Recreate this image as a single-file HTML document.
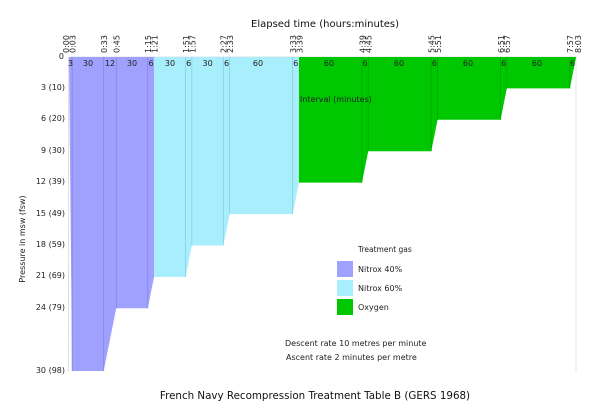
<!DOCTYPE html>
<html><head><meta charset="utf-8"><style>
html,body{margin:0;padding:0;background:#fff;}
svg{display:block;font-family:"DejaVu Sans","Liberation Sans",sans-serif;}
</style></head><body>
<svg width="600" height="419" viewBox="0 0 600 419" xmlns="http://www.w3.org/2000/svg">
<rect width="600" height="419" fill="#fff"/>
<line x1="576" y1="57" x2="576" y2="372" stroke="#e6e6e6" stroke-width="1"/>
<line x1="68.5" y1="57" x2="68.5" y2="372" stroke="#e0e0e0" stroke-width="1"/>
<line x1="69" y1="57" x2="576" y2="57" stroke="#e0e0e0" stroke-width="1"/>
<polygon fill="#a0a0ff" points="69,57 72.15,371 103.65,371 116.25,308.3 147.75,308.3 154.05,276.9 154.05,57"/>
<polygon fill="#a8eefc" points="154.05,57 154.05,276.9 185.55,276.9 191.85,245.5 223.35,245.5 229.65,214.1 292.65,214.1 298.95,182.6 298.95,57"/>
<polygon fill="#00c800" points="298.95,57 298.95,182.6 361.95,182.6 368.25,151.2 431.25,151.2 437.55,119.8 500.55,119.8 506.85,88.4 569.85,88.4 576.15,57"/>
<g stroke-width="0.8">
<line x1="72.15" y1="57" x2="72.15" y2="371" stroke="#8484e0"/>
<line x1="103.65" y1="57" x2="103.65" y2="371" stroke="#8484e0"/>
<line x1="116.25" y1="57" x2="116.25" y2="308.3" stroke="#8484e0"/>
<line x1="147.75" y1="57" x2="147.75" y2="308.3" stroke="#8484e0"/>
<line x1="185.55" y1="57" x2="185.55" y2="276.9" stroke="#86cfe0"/>
<line x1="191.85" y1="57" x2="191.85" y2="245.5" stroke="#86cfe0"/>
<line x1="223.35" y1="57" x2="223.35" y2="245.5" stroke="#86cfe0"/>
<line x1="229.65" y1="57" x2="229.65" y2="214.1" stroke="#86cfe0"/>
<line x1="292.65" y1="57" x2="292.65" y2="214.1" stroke="#86cfe0"/>
<line x1="361.95" y1="57" x2="361.95" y2="182.6" stroke="#00a800"/>
<line x1="368.25" y1="57" x2="368.25" y2="151.2" stroke="#00a800"/>
<line x1="431.25" y1="57" x2="431.25" y2="151.2" stroke="#00a800"/>
<line x1="437.55" y1="57" x2="437.55" y2="119.8" stroke="#00a800"/>
<line x1="500.55" y1="57" x2="500.55" y2="119.8" stroke="#00a800"/>
<line x1="506.85" y1="57" x2="506.85" y2="88.4" stroke="#00a800"/>
<line x1="569.85" y1="57" x2="569.85" y2="88.4" stroke="#00a800"/>
</g>
<g font-size="8" fill="#222" text-anchor="middle">
<text x="70.6" y="66">3</text><text x="88" y="66">30</text><text x="110" y="66">12</text><text x="132" y="66">30</text><text x="151" y="66">6</text>
<text x="170" y="66">30</text><text x="188.7" y="66">6</text><text x="207.6" y="66">30</text><text x="226.5" y="66">6</text><text x="258" y="66">60</text><text x="295.8" y="66">6</text>
<text x="329" y="66">60</text><text x="365" y="66">6</text><text x="399" y="66">60</text><text x="434.4" y="66">6</text><text x="468" y="66">60</text><text x="503.7" y="66">6</text><text x="537" y="66">60</text><text x="572.5" y="66">6</text>
</g>
<g font-size="8" fill="#222">
<text transform="translate(69,53) rotate(-90)">0:00</text>
<text transform="translate(75.5,53) rotate(-90)">0:03</text>
<text transform="translate(107,53) rotate(-90)">0:33</text>
<text transform="translate(119.5,53) rotate(-90)">0:45</text>
<text transform="translate(151,53) rotate(-90)">1:15</text>
<text transform="translate(157.5,53) rotate(-90)">1:21</text>
<text transform="translate(189,53) rotate(-90)">1:51</text>
<text transform="translate(195.3,53) rotate(-90)">1:57</text>
<text transform="translate(226.7,53) rotate(-90)">2:27</text>
<text transform="translate(233,53) rotate(-90)">2:33</text>
<text transform="translate(296,53) rotate(-90)">3:33</text>
<text transform="translate(302.3,53) rotate(-90)">3:39</text>
<text transform="translate(365.3,53) rotate(-90)">4:39</text>
<text transform="translate(371.6,53) rotate(-90)">4:45</text>
<text transform="translate(434.6,53) rotate(-90)">5:45</text>
<text transform="translate(440.9,53) rotate(-90)">5:51</text>
<text transform="translate(503.9,53) rotate(-90)">6:51</text>
<text transform="translate(510.2,53) rotate(-90)">6:57</text>
<text transform="translate(573.2,53) rotate(-90)">7:57</text>
<text transform="translate(581,53) rotate(-90)">8:03</text>
</g>
<g font-size="8" fill="#222" text-anchor="end">
<text x="64" y="59">0</text>
<text x="65" y="90">3 (10)</text>
<text x="65" y="121">6 (20)</text>
<text x="65" y="153">9 (30)</text>
<text x="65" y="184">12 (39)</text>
<text x="65" y="216">15 (49)</text>
<text x="65" y="247">18 (59)</text>
<text x="65" y="278">21 (69)</text>
<text x="65" y="310">24 (79)</text>
<text x="65" y="373">30 (98)</text>
</g>
<text transform="translate(25,239) rotate(-90)" font-size="8" fill="#222" text-anchor="middle">Pressure in msw (fsw)</text>
<text x="325" y="27" font-size="10" fill="#111" text-anchor="middle">Elapsed time (hours:minutes)</text>
<text x="300" y="102" font-size="8" fill="#222">Interval (minutes)</text>
<text x="358" y="252" font-size="7.5" fill="#222">Treatment gas</text>
<rect x="337" y="261" width="16" height="16" fill="#a0a0ff"/>
<rect x="337" y="280" width="16" height="16" fill="#a8eefc"/>
<rect x="337" y="299" width="16" height="16" fill="#00c800"/>
<text x="358" y="272" font-size="8" fill="#222">Nitrox 40%</text>
<text x="358" y="291" font-size="8" fill="#222">Nitrox 60%</text>
<text x="358" y="310" font-size="8" fill="#222">Oxygen</text>
<text x="285" y="346" font-size="8" fill="#222">Descent rate 10 metres per minute</text>
<text x="286" y="360" font-size="8" fill="#222">Ascent rate 2 minutes per metre</text>
<text x="315" y="399" font-size="10.3" fill="#111" text-anchor="middle">French Navy Recompression Treatment Table B (GERS 1968)</text>
</svg>
</body></html>
